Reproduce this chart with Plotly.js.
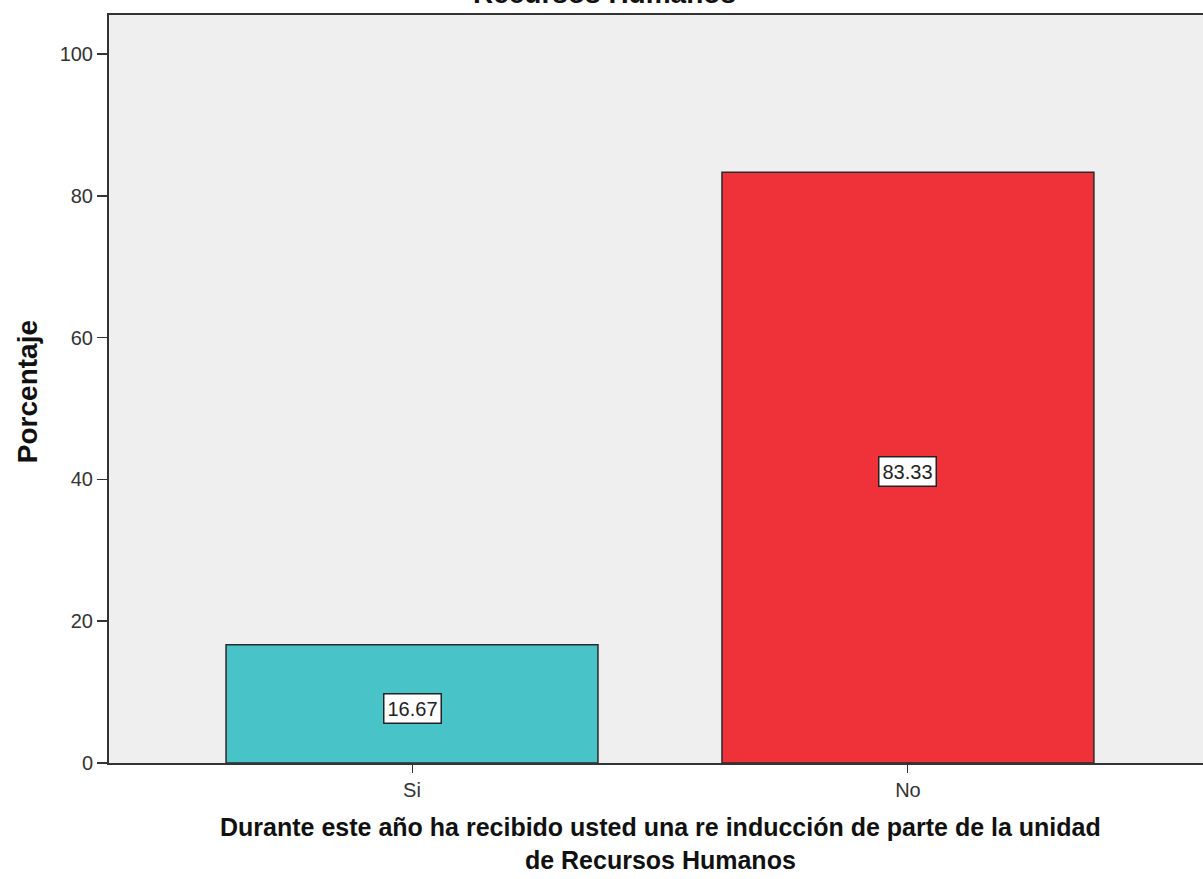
<!DOCTYPE html>
<html>
<head>
<meta charset="utf-8">
<script src="https://cdn.plot.ly/plotly-3.0.1.min.js"></script>
<style>html,body{margin:0;padding:0;background:#fff;}#chart{width:1203px;height:879px;}</style>
</head>
<body>
<div id="chart"></div>
<script>
const categories = ["Si", "No"];
const percentages = [16.67, 83.33];
const labels = ["16.67", "83.33"];
const barColors = ["#48C4C8", "#EF3139"];
const yTicks = [0, 20, 40, 60, 80, 100];
const topTitle = "Recursos Humanos";
const xTitleLines = ["Durante este año ha recibido usted una re inducción de parte de la unidad", "de Recursos Humanos"];
const yTitle = "Porcentaje";

const FONT = "Arial, Liberation Sans, sans-serif";

const trace = {
  type: "bar",
  x: categories,
  y: percentages,
  width: 0.75,
  marker: { color: barColors, line: { color: "#2a2a2a", width: 1.5 } },
  hoverinfo: "x+y"
};

const annotations = categories.map((c, i) => ({
  x: c, y: percentages[i] / 2 - 0.6, xref: "x", yref: "y",
  text: labels[i], showarrow: false,
  font: { family: FONT, size: 20, color: "#222" },
  bgcolor: "#ffffff", bordercolor: "#222", borderwidth: 1.5, borderpad: 3
}));

// chart title (cut off at the top, as in the reference)
annotations.push({
  xref: "paper", yref: "paper", x: 0.4525, y: 1.005, yanchor: "bottom",
  text: "<b>" + topTitle + "</b>", showarrow: false,
  font: { family: FONT, size: 28, color: "#111" }
});

// x-axis title (two lines)
annotations.push({
  xref: "paper", yref: "paper", x: 0.5037, y: -0.108, yanchor: "middle", xanchor: "center",
  text: "<b>" + xTitleLines.join("<br>") + "</b>", showarrow: false,
  font: { family: FONT, size: 25, color: "#111" }
});

// y-axis title
annotations.push({
  xref: "paper", yref: "paper", x: -0.075, y: 0.497, xanchor: "center", yanchor: "middle",
  textangle: -90, text: "<b>" + yTitle + "</b>", showarrow: false,
  font: { family: FONT, size: 28, color: "#111" }
});

const layout = {
  width: 1203, height: 879,
  margin: { l: 109, r: 0, t: 15, b: 116 },
  paper_bgcolor: "#ffffff",
  plot_bgcolor: "#EFEFEF",
  showlegend: false,
  bargap: 0.25,
  font: { family: FONT, color: "#222" },
  xaxis: {
    type: "category",
    range: [-0.611, 1.595],
    showline: true, linecolor: "#333", linewidth: 2,
    mirror: true,
    ticks: "outside", ticklen: 8, tickcolor: "#333", tickwidth: 1,
    tickfont: { family: FONT, size: 20, color: "#333" },
    showgrid: false, zeroline: false
  },
  yaxis: {
    range: [0, 105.5],
    tickvals: yTicks,
    showline: true, linecolor: "#333", linewidth: 2,
    ticks: "outside", ticklen: 10, tickcolor: "#333", tickwidth: 1.5,
    tickfont: { family: FONT, size: 20, color: "#333" },
    showgrid: false, zeroline: false
  },
  annotations: annotations
};

Plotly.newPlot("chart", [trace], layout, { displayModeBar: false, staticPlot: true });
</script>
</body>
</html>
